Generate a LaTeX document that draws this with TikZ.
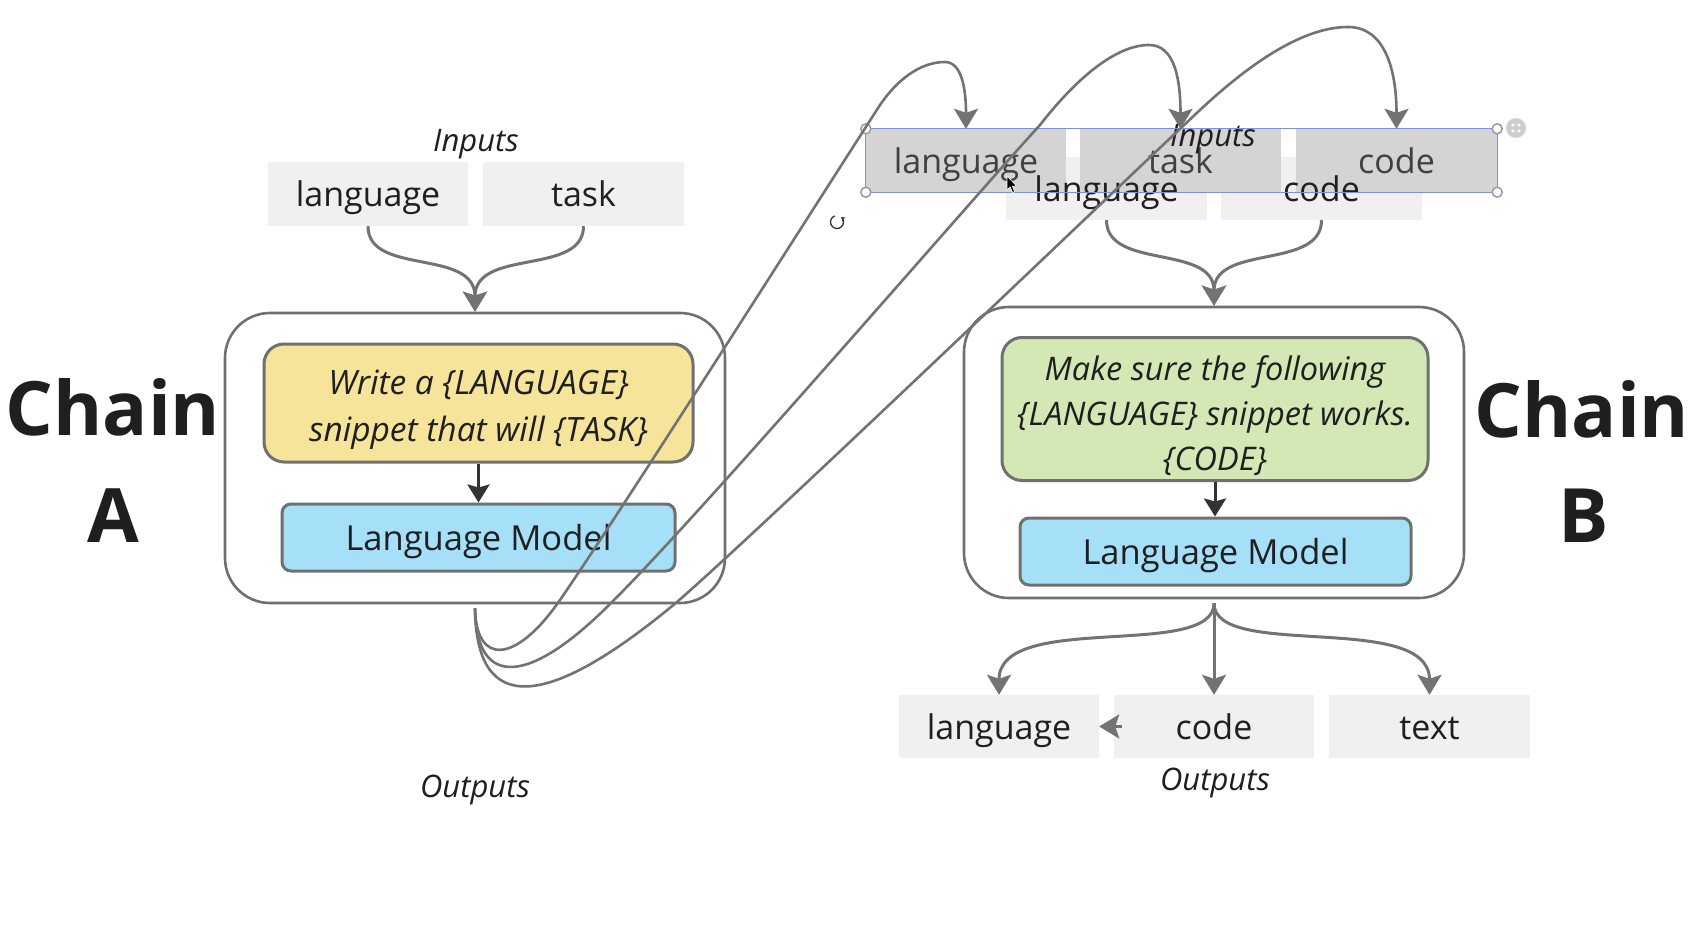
\documentclass[tikz,border=0pt]{standalone}
\usepackage{fontspec}
\setmainfont{Open Sans}
\usetikzlibrary{arrows.meta}
\definecolor{inboxgray}{HTML}{F0F0F0}
\definecolor{selgray}{HTML}{D4D4D4}
\definecolor{yellowF}{HTML}{F7E49B}
\definecolor{greenF}{HTML}{D3E8B4}
\definecolor{blueF}{HTML}{A6E0F8}
\definecolor{bordergray}{HTML}{707070}
\definecolor{arrgray}{HTML}{737373}
\definecolor{darkarr}{HTML}{333333}
\definecolor{txt}{HTML}{1F1F1F}
\definecolor{seltxt}{HTML}{404040}
\definecolor{selline}{HTML}{7B8FE3}
\definecolor{handlegray}{HTML}{9A9A9A}
\definecolor{menugray}{HTML}{CFCFCF}
\begin{document}
\begin{tikzpicture}[x=1pt,y=1pt,
  chainlbl/.style={font=\bfseries\fontsize{75}{90}\selectfont, text=txt, inner sep=0pt},
  lbl/.style={font=\itshape\fontsize{31}{36}\selectfont, text=txt, inner sep=0pt},
  inbox/.style={fill=inboxgray, minimum width=200pt, minimum height=64pt, inner sep=0pt,
    font=\fontsize{34}{40}\selectfont, text=txt, text height=30pt, text depth=4pt},
  selbox/.style={fill=selgray, minimum width=200pt, minimum height=63pt, inner sep=0pt,
    font=\fontsize{34}{40}\selectfont, text=seltxt, text height=30pt, text depth=4pt},
  boxtext/.style={font=\fontsize{34}{40}\selectfont, text=txt, inner sep=0pt, text height=30pt, text depth=4pt},
  outerbox/.style={draw=bordergray, line width=2.6pt, rounded corners=45pt, fill=white,
    minimum width=500pt, minimum height=290pt, inner sep=0pt},
  promptbox/.style={draw=bordergray, line width=3pt, rounded corners=20pt, inner sep=0pt},
  prompttext/.style={inner sep=0pt, align=center, font=\itshape\fontsize{33.5}{47}\selectfont, text=txt},
  lm/.style={draw=bordergray, line width=3pt, rounded corners=9pt, fill=blueF, inner sep=0pt,
    minimum width=392pt, minimum height=67pt, font=\fontsize{34.5}{40}\selectfont, text=txt,
    text height=30pt, text depth=4pt},
  garr/.style={draw=arrgray, line width=3pt, -{Stealth[length=20pt,width=24pt,inset=4pt]}},
  longc/.style={draw=arrgray, line width=2.6pt, -{Stealth[length=20pt,width=24pt,inset=4pt]}},
  darr/.style={draw=darkarr, line width=3pt, -{Stealth[length=18pt,width=22pt,inset=3pt]}},
  handle/.style={circle, draw=handlegray, line width=1.5pt, fill=white, minimum size=10pt, inner sep=0pt},
]
\useasboundingbox (0,0) rectangle (1700,-933);
\fill[white] (0,0) rectangle (1700,-933);

% ---------- Chain A ----------
\node[chainlbl, anchor=base] (chA1) at (113,-435) {Chain};
\node[chainlbl, anchor=base] (chA2) at (113,-542) {A};

\node[lbl, anchor=base] (inAlbl) at (476,-152) {Inputs};
\node[inbox] (inA1) at (368,-194) {language};
\node[inbox, minimum width=201pt] (inA2) at (583.5,-194) {task};

\node[outerbox] (outA) at (475,-458) {};
\node[promptbox, fill=yellowF, minimum width=429pt, minimum height=118pt] (pA) at (478.5,-403) {};
\node[prompttext] (pAt) at ([yshift=-6.5pt]pA.center)
  {Write a \{LANGUAGE\}\\snippet that will \{TASK\}};
\node[lm, minimum width=393pt] (lmA) at (478.5,-537.5) {Language Model};
\draw[darr] (pA.south) -- (lmA.north);

\draw[garr] (inA1.south) .. controls +(0,-50) and +(0,64) .. (outA.north);
\draw[garr] (inA2.south) .. controls +(0,-50) and +(0,64) .. (outA.north);

\node[lbl, anchor=base] (outAlbl) at (475,-797) {Outputs};
\coordinate (oA) at ([yshift=-4pt]outA.south);

% ---------- Chain B ----------
\node[chainlbl, anchor=base] (chB1) at (1582,-437) {Chain};
\node[chainlbl, anchor=base] (chB2) at (1584,-542) {B};

\node[inbox, minimum width=201pt, minimum height=63pt] (inB1) at (1106.5,-188.5) {};
\node[inbox, minimum width=201pt, minimum height=63pt] (inB2) at (1321.5,-188.5) {};
\node[selbox] (s1) at (966,-160.5) {language};
\node[selbox, minimum width=201pt] (s2) at (1180.5,-160.5) {task};
\node[selbox, minimum width=201pt] (s3) at (1396.5,-160.5) {code};
\node[lbl, anchor=base] (inBlbl) at (1213,-147) {Inputs};
\node[boxtext] (tB1) at (inB1) {language};
\node[boxtext] (tB2) at (inB2) {code};

\draw[selline, line width=1.2pt] (s1.north west) rectangle (s3.south east);
\node[handle] (h1) at (s1.north west) {};
\node[handle] (h2) at (s1.south west) {};
\node[handle] (h3) at (s3.north east) {};
\node[handle] (h4) at (s3.south east) {};
\node[circle, fill=menugray, minimum size=20pt, inner sep=0pt] (menu) at (1516,-128) {};
\foreach \dx/\dy in {-3/-3,-3/3,3/-3,3/3}
  \fill[white] ([xshift=\dx pt,yshift=\dy pt]menu.center) circle (1.7pt);

% rotation icon
\draw[darkarr, line width=1.3pt, -{Stealth[length=4pt,width=5pt]}] (837,-222) ++(110:6.5) arc (110:410:6.5);
% cursor
\filldraw[fill=black, draw=white, line width=0.6pt]
  (1007,-176) -- (1007,-190) -- (1010.2,-187) -- (1012.6,-192.5) -- (1014.6,-191.6) -- (1012.3,-186.2) -- (1016.5,-186) -- cycle;

\node[outerbox, minimum height=291pt] (outB) at (1214,-452.5) {};
\node[promptbox, fill=greenF, minimum width=426pt, minimum height=143pt] (pB) at (1215,-409) {};
\node[prompttext, font=\itshape\fontsize{32.5}{45}\selectfont] (pBt) at ([yshift=-7pt]pB.center)
  {Make sure the following\\\{LANGUAGE\} snippet works.\\\{CODE\}};
\node[lm, minimum width=391pt] (lmB) at (1215.5,-551.5) {Language Model};
\draw[darr] (pB.south) -- (pB.south |- lmB.north);

\draw[garr] (inB1.south) .. controls +(0,-50) and +(0,62) .. (outB.north);
\draw[garr] (inB2.south) .. controls +(0,-50) and +(0,62) .. (outB.north);

\coordinate (oB) at ([yshift=-4pt]outB.south);
\node[inbox, minimum height=63pt] (o1) at (999,-726.5) {language};
\node[inbox, minimum height=63pt] (o2) at (1214,-726.5) {code};
\node[inbox, minimum width=201pt, minimum height=63pt] (o3) at (1429.5,-726.5) {text};
\draw[garr] (oB) .. controls +(0,-57) and +(0,84) .. (o1.north);
\draw[garr] (oB) -- (o2.north);
\draw[garr] (oB) .. controls +(0,-57) and +(0,84) .. (o3.north);
\draw[garr] ([xshift=8pt]o2.west) -- (o1.east);
\node[lbl, anchor=base] (outBlbl) at (1215,-790) {Outputs};

% ---------- long connectors from chain A outputs to chain B inputs ----------
\draw[longc] (oA) .. controls (476,-665) and (515,-665) .. (560,-600)
  .. controls (620,-513) and (820,-198) .. (880,-105)
  .. controls (897,-80) and (920,-62) .. (945,-62)
  .. controls (962,-62) and (966,-90) .. (s1.north);
\draw[longc] (oA) .. controls (476,-690) and (530,-685) .. (612,-602)
  .. controls (700,-515) and (980,-190) .. (1040,-125)
  .. controls (1075,-80) and (1115,-45) .. (1149,-45)
  .. controls (1175,-45) and (1180.5,-80) .. (s2.north);
\draw[longc] (oA) .. controls (476,-715) and (545,-712) .. (677,-602)
  .. controls (760,-530) and (1120,-185) .. (1200,-110)
  .. controls (1245,-68) and (1300,-27) .. (1348,-27)
  .. controls (1385,-27) and (1396.5,-70) .. (s3.north);
\end{tikzpicture}
\end{document}
